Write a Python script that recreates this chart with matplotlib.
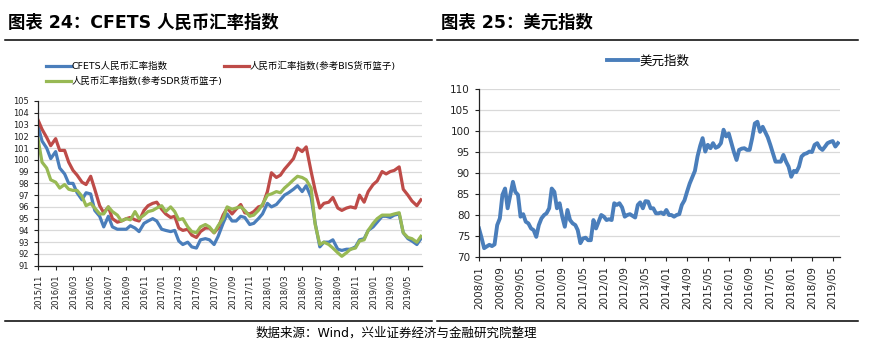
import matplotlib
matplotlib.use('Agg')
import matplotlib.pyplot as plt
import matplotlib.dates as mdates
from matplotlib.lines import Line2D
import pandas as pd

plt.rcParams['font.family'] = ['DejaVu Sans', 'Noto Sans CJK SC']

# left chart: half-month readings, 2015/11 .. 2019/06
cfets_dates = pd.date_range('2015-11-01', periods=88, freq='SMS')
cfets = [102.9, 101.6, 101.0, 100.1, 100.7, 99.3, 98.8, 98.0, 98.0, 97.2,
         96.6, 97.2, 97.1, 95.7, 95.2, 94.3, 95.2, 94.3, 94.1, 94.1,
         94.1, 94.4, 94.2, 93.9, 94.6, 94.8, 95.0, 94.8, 94.1, 94.0,
         93.9, 94.0, 93.1, 92.8, 93.0, 92.6, 92.5, 93.2, 93.3, 93.2,
         92.8, 93.5, 94.6, 95.4, 94.8, 94.8, 95.2, 95.1, 94.5, 94.6,
         95.0, 95.4, 96.3, 96.0, 96.2, 96.6, 97.0, 97.2, 97.5, 97.8,
         97.3, 97.8, 96.8, 94.6, 92.6, 93.0, 93.0, 93.2, 92.4, 92.3,
         92.4, 92.4, 92.6, 93.2, 93.3, 94.0, 94.3, 94.7, 95.2, 95.2,
         95.1, 95.3, 95.4, 93.8, 93.3, 93.1, 92.8, 93.3]
bis = [103.4, 102.6, 101.9, 101.2, 101.8, 100.8, 100.8, 99.8, 99.1, 98.7,
       98.1, 97.9, 98.6, 97.5, 96.1, 95.5, 96.0, 95.0, 94.7, 94.8,
       95.0, 95.1, 94.9, 94.8, 95.7, 96.1, 96.3, 96.4, 95.8, 95.4,
       95.1, 95.2, 94.2, 94.0, 94.1, 93.6, 93.4, 93.9, 94.2, 94.2,
       93.8, 94.2, 95.3, 95.9, 95.4, 95.8, 96.2, 95.5, 95.4, 95.6,
       96.0, 96.1, 97.3, 98.9, 98.5, 98.7, 99.2, 99.6, 100.1, 101.0,
       100.7, 101.1, 99.0, 97.4, 95.9, 96.3, 96.4, 96.8, 95.9, 95.7,
       95.9, 96.0, 95.9, 97.0, 96.4, 97.3, 97.9, 98.2, 99.0, 98.8,
       99.0, 99.1, 99.4, 97.5, 97.0, 96.5, 96.1, 96.6]
sdr = [101.8, 99.8, 99.3, 98.3, 98.1, 97.6, 97.9, 97.5, 97.4, 97.4,
       96.9, 96.1, 96.3, 95.9, 95.4, 95.4, 96.0, 95.6, 95.3, 94.8,
       95.0, 94.9, 95.6, 95.0, 95.3, 95.6, 95.7, 95.9, 96.1, 95.6,
       96.0, 95.6, 94.9, 95.0, 94.3, 93.9, 93.8, 94.3, 94.5, 94.3,
       93.8, 94.4, 95.0, 96.0, 95.8, 95.9, 96.0, 95.7, 95.2, 95.3,
       95.7, 96.2, 97.0, 97.1, 97.3, 97.2, 97.6, 97.9, 98.3, 98.6,
       98.5, 98.3, 97.6, 94.5, 92.8, 93.0, 92.8, 92.5, 92.1, 91.8,
       92.1, 92.4, 92.5, 93.1, 93.2, 94.0, 94.6, 95.0, 95.3, 95.3,
       95.3, 95.4, 95.5, 93.8, 93.4, 93.3, 93.0, 93.5]
left_labels = ['CFETS人民币汇率指数', '人民币汇率指数(参考BIS货币篮子)',
               '人民币汇率指数(参考SDR货币篮子)']

# right chart: monthly, 2008/01 .. 2019/07
dxy_dates = pd.date_range('2008-01-01', periods=139, freq='MS')
dxy = [76.8, 74.5, 72.1, 72.5, 72.9, 72.6, 73.0, 77.6, 79.2, 84.8, 86.3, 81.6,
       84.8, 87.9, 85.5, 84.8, 79.6, 80.2, 78.4, 78.0, 76.8, 76.4, 74.8, 77.6,
       79.2, 80.0, 80.4, 81.6, 86.3, 85.5, 81.6, 82.8, 79.6, 77.2, 81.2, 78.8,
       78.0, 77.6, 76.4, 73.3, 74.4, 74.6, 74.0, 74.0, 78.8, 76.8, 78.4, 80.0,
       79.6, 78.8, 79.0, 78.8, 82.8, 82.4, 82.8, 81.8, 79.6, 80.0, 80.2, 79.8,
       79.4, 82.4, 83.0, 81.6, 83.3, 83.2, 81.6, 81.6, 80.4, 80.4, 80.6, 80.2,
       81.2, 80.0, 80.0, 79.6, 80.0, 80.2, 82.4, 83.5, 85.6, 87.5, 89.0, 90.5,
       94.0, 96.5, 98.3, 95.1, 96.7, 95.9, 97.1, 96.0, 96.3, 97.1, 100.3, 98.7,
       99.4, 97.1, 95.0, 93.1, 95.5, 95.8, 95.9, 95.5, 95.5, 98.3, 101.8, 102.2,
       99.8, 101.0, 99.8, 98.5, 96.7, 94.7, 92.7, 92.7, 92.7, 94.3, 92.7, 91.5,
       89.1, 90.5, 90.2, 91.5, 93.9, 94.5, 94.7, 95.1, 95.0, 96.7, 97.1, 96.0,
       95.5, 96.3, 97.1, 97.4, 97.6, 96.3, 97.1]

blue = '#4A7EBB'
red = '#BE4B48'
green = '#98B954'
grid_c = '#D9D9D9'

fig = plt.figure(figsize=(8.69, 3.44), dpi=100)


def style_axis(ax, fs):
    for s in ['top', 'right']:
        ax.spines[s].set_visible(False)
    for s in ['left', 'bottom']:
        ax.spines[s].set_color('#222222')
        ax.spines[s].set_linewidth(0.9)
    ax.yaxis.grid(True, color=grid_c, linewidth=0.9)
    ax.set_axisbelow(True)
    ax.tick_params(axis='both', direction='out', length=3, width=0.8,
                   labelsize=fs, colors='#222222')
    ax.tick_params(axis='x', labelrotation=90)


# ---- left: CFETS
ax1 = fig.add_axes([0.0437, 0.2276, 0.442, 0.4788])
l1, = ax1.plot(cfets_dates, cfets, color=blue, lw=2.3)
l2, = ax1.plot(cfets_dates, bis, color=red, lw=2.3)
l3, = ax1.plot(cfets_dates, sdr, color=green, lw=2.3)
ax1.set_ylim(91, 105)
ax1.set_yticks(range(91, 106))
ax1.set_xlim(pd.Timestamp('2015-11-01'), pd.Timestamp('2019-06-19'))
ax1.xaxis.set_major_locator(mdates.MonthLocator(bymonth=[1, 3, 5, 7, 9, 11]))
ax1.xaxis.set_major_formatter(mdates.DateFormatter('%Y/%m'))
style_axis(ax1, 6)
ax1.legend([l1, l3, l2], [left_labels[0], left_labels[2], left_labels[1]],
           ncol=2, loc='upper left', bbox_to_anchor=(0.048, 0.835),
           bbox_transform=fig.transFigure, frameon=False, fontsize=6.8,
           handlelength=2.6, handletextpad=0.1, columnspacing=0.15,
           labelspacing=0.6, borderpad=0)

# ---- right: dollar index
ax2 = fig.add_axes([0.5512, 0.2529, 0.4154, 0.4884])
l4, = ax2.plot(dxy_dates, dxy, color=blue, lw=2.8)
ax2.set_ylim(70, 110)
ax2.set_yticks(range(70, 111, 5))
ax2.set_xlim(pd.Timestamp('2008-01-01'), pd.Timestamp('2019-07-25'))
ax2.set_xticks(pd.date_range('2008-01-01', '2019-05-01', freq='8MS'))
ax2.xaxis.set_major_formatter(mdates.DateFormatter('%Y/%m'))
style_axis(ax2, 7.5)
ax2.legend([l4], ['美元指数'], loc='center', bbox_to_anchor=(0.746, 0.823),
           bbox_transform=fig.transFigure, frameon=False, fontsize=9,
           handlelength=2.5, handletextpad=0.1, borderpad=0)

# ---- titles, rules, source
fig.text(0.009, 0.935, '图表 24：CFETS 人民币汇率指数', fontsize=12.5,
         fontweight='bold', va='center', ha='left')
fig.text(0.507, 0.935, '图表 25：美元指数', fontsize=12.5,
         fontweight='bold', va='center', ha='left')
for x0, x1 in [(0.006, 0.497), (0.503, 0.987)]:
    fig.add_artist(Line2D([x0, x1], [0.8837, 0.8837], color='black',
                          lw=1.1, transform=fig.transFigure))
    fig.add_artist(Line2D([x0, x1], [0.0669, 0.0669], color='black',
                          lw=1.1, transform=fig.transFigure))
fig.text(0.456, 0.032, '数据来源：Wind，兴业证券经济与金融研究院整理',
         fontsize=9, ha='center', va='center')

fig.savefig('out.png', dpi=100)
